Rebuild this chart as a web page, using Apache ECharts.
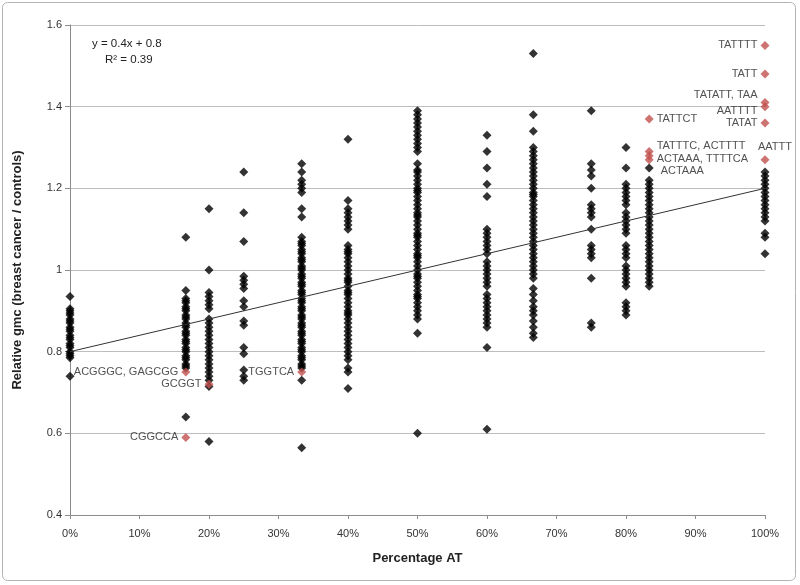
<!DOCTYPE html>
<html>
<head>
<meta charset="utf-8">
<script src="https://cdn.jsdelivr.net/npm/echarts@6/dist/echarts.min.js"></script>
<style>
  html, body { margin: 0; padding: 0; background: #fff; }
  #chart { width: 800px; height: 585px; }
</style>
</head>
<body>
<div id="chart"></div>
<script>
// x positions of the columns (fraction AT)
var columnX = [0, 1/6, 0.2, 0.25, 1/3, 0.4, 0.5, 0.6, 2/3, 0.75, 0.8, 5/6, 1];

// relative gmc values
var at0 = [0.935, 0.905, 0.90, 0.895, 0.89, 0.88, 0.875, 0.87, 0.86, 0.855, 0.85, 0.84, 0.835, 0.83, 0.82, 0.815, 0.81, 0.80, 0.795, 0.79, 0.785, 0.74];
var at17 = [1.08, 0.95, 0.93, 0.925, 0.92, 0.91, 0.905, 0.90, 0.89, 0.885, 0.88, 0.87, 0.865, 0.86, 0.85, 0.845, 0.84, 0.83, 0.825, 0.82, 0.81, 0.805, 0.80, 0.79, 0.785, 0.78, 0.77, 0.765, 0.76, 0.64];
var at20 = [1.15, 1.00, 0.945, 0.935, 0.925, 0.915, 0.905, 0.88, 0.87, 0.86, 0.85, 0.84, 0.83, 0.82, 0.81, 0.80, 0.79, 0.78, 0.77, 0.76, 0.75, 0.74, 0.73, 0.715, 0.58];
var at25 = [1.24, 1.14, 1.07, 0.985, 0.975, 0.965, 0.955, 0.925, 0.91, 0.875, 0.865, 0.81, 0.795, 0.755, 0.74, 0.73];
var at33 = [1.26, 1.24, 1.22, 1.21, 1.20, 1.19, 1.15, 1.13, 1.08, 1.07, 1.065, 1.06, 1.05, 1.045, 1.04, 1.03, 1.025, 1.02, 1.01, 1.005, 1.00, 0.99, 0.985, 0.98, 0.97, 0.965, 0.96, 0.95, 0.945, 0.94, 0.93, 0.925, 0.92, 0.91, 0.905, 0.90, 0.89, 0.885, 0.88, 0.87, 0.865, 0.86, 0.85, 0.845, 0.84, 0.83, 0.825, 0.82, 0.81, 0.805, 0.80, 0.79, 0.785, 0.78, 0.77, 0.765, 0.76, 0.73, 0.565];
var at40 = [1.32, 1.17, 1.15, 1.14, 1.13, 1.12, 1.11, 1.10, 1.06, 1.05, 1.045, 1.04, 1.03, 1.02, 1.01, 1.00, 0.99, 0.98, 0.975, 0.97, 0.96, 0.95, 0.945, 0.94, 0.93, 0.92, 0.91, 0.90, 0.895, 0.89, 0.88, 0.87, 0.86, 0.85, 0.84, 0.83, 0.82, 0.81, 0.80, 0.79, 0.78, 0.76, 0.75, 0.71];
var at50 = [1.39, 1.38, 1.37, 1.36, 1.35, 1.34, 1.33, 1.32, 1.31, 1.30, 1.29, 1.26, 1.245, 1.24, 1.23, 1.22, 1.21, 1.20, 1.195, 1.19, 1.18, 1.17, 1.16, 1.15, 1.14, 1.135, 1.13, 1.12, 1.11, 1.10, 1.09, 1.085, 1.08, 1.07, 1.06, 1.05, 1.04, 1.035, 1.03, 1.02, 1.01, 1.00, 0.99, 0.985, 0.98, 0.97, 0.96, 0.95, 0.94, 0.935, 0.93, 0.92, 0.91, 0.90, 0.89, 0.88, 0.845, 0.60];
var at60 = [1.33, 1.29, 1.25, 1.21, 1.18, 1.10, 1.09, 1.08, 1.07, 1.06, 1.05, 1.04, 1.02, 1.01, 1.00, 0.99, 0.98, 0.97, 0.96, 0.94, 0.93, 0.92, 0.91, 0.90, 0.89, 0.88, 0.87, 0.86, 0.81, 0.61];
var at67 = [1.53, 1.38, 1.34, 1.30, 1.29, 1.28, 1.27, 1.26, 1.25, 1.24, 1.23, 1.22, 1.21, 1.20, 1.19, 1.185, 1.18, 1.17, 1.16, 1.15, 1.14, 1.13, 1.12, 1.11, 1.10, 1.09, 1.08, 1.07, 1.06, 1.05, 1.04, 1.03, 1.02, 1.01, 1.00, 0.99, 0.98, 0.955, 0.94, 0.925, 0.91, 0.90, 0.89, 0.875, 0.86, 0.845, 0.835];
var at75 = [1.39, 1.26, 1.245, 1.23, 1.20, 1.16, 1.15, 1.14, 1.13, 1.10, 1.06, 1.05, 1.04, 1.03, 0.98, 0.87, 0.86];
var at80 = [1.30, 1.25, 1.21, 1.20, 1.19, 1.18, 1.17, 1.16, 1.14, 1.13, 1.12, 1.11, 1.10, 1.09, 1.06, 1.05, 1.04, 1.03, 1.01, 1.00, 0.99, 0.98, 0.97, 0.96, 0.92, 0.91, 0.90, 0.89];
var at83 = [1.25, 1.22, 1.21, 1.20, 1.19, 1.18, 1.17, 1.16, 1.15, 1.14, 1.13, 1.12, 1.11, 1.10, 1.09, 1.08, 1.07, 1.06, 1.05, 1.04, 1.03, 1.02, 1.01, 1.00, 0.99, 0.98, 0.97, 0.96];
var at100 = [1.24, 1.23, 1.22, 1.21, 1.20, 1.19, 1.18, 1.17, 1.16, 1.15, 1.14, 1.13, 1.12, 1.09, 1.08, 1.04];
var columnValues = [at0, at17, at20, at25, at33, at40, at50, at60, at67, at75, at80, at83, at100];

// highlighted (labelled) sequences
var redX = [1/6, 0.2, 1/6, 1/3, 5/6, 5/6, 5/6, 5/6, 1, 1, 1, 1, 1, 1];
var redY = [0.75, 0.72, 0.59, 0.75, 1.37, 1.29, 1.28, 1.27, 1.55, 1.48, 1.41, 1.40, 1.36, 1.27];
var redLabels = ['ACGGGC, GAGCGG', 'GCGGT', 'CGGCCA', 'TGGTCA', 'TATTCT', 'TATTTC, ACTTTT',
  'ACTAAA, TTTTCA', 'ACTAAA', 'TATTTT', 'TATT', 'TATATT, TAA', 'AATTTT', 'TATAT', 'AATTT'];

// linear fit y = 0.4x + 0.8
var trendStart = [0, 0.8];
var trendEnd = [1, 1.2];

var xTicks = ['0%', '10%', '20%', '30%', '40%', '50%', '60%', '70%', '80%', '90%', '100%'];

// label placement for the highlighted points (style only)
var labelStyle = [
  {position: 'left'}, {position: 'left'}, {position: 'left'}, {position: 'left'},
  {position: 'right'}, {position: 'right', offset: [0, -6]}, {position: 'right', offset: [0, 3]},
  {position: 'right', offset: [4, 11]},
  {position: 'left'}, {position: 'left'}, {position: 'left', offset: [0, -8]},
  {position: 'left', offset: [0, 4]}, {position: 'left'}, {position: 'top', offset: [10, 0]}
];

var blackData = [];
columnValues.forEach(function (vals, i) {
  vals.forEach(function (v) { blackData.push([columnX[i], v]); });
});

var redData = redX.map(function (x, i) {
  var ls = labelStyle[i];
  return {
    value: [x, redY[i]],
    label: {show: true, formatter: redLabels[i], position: ls.position, offset: ls.offset || [0, 0]}
  };
});

var font = 'Liberation Sans';
var chart = echarts.init(document.getElementById('chart'));
chart.setOption({
  animation: false,
  grid: {left: 70, right: 35, top: 25, bottom: 70},
  graphic: [
    {type: 'rect', shape: {x: 2.5, y: 2.5, width: 793, height: 578, r: 5},
      style: {fill: 'none', stroke: '#b4b4b4', lineWidth: 1}},
    {type: 'text', left: 92, top: 38, style: {text: 'y = 0.4x + 0.8', font: '11.5px ' + font, fill: '#222'}},
    {type: 'text', left: 105, top: 54, style: {text: 'R\u00b2 = 0.39', font: '11.5px ' + font, fill: '#222'}}
  ],
  xAxis: {
    type: 'value', min: 0, max: 1, interval: 0.1,
    name: 'Percentage AT', nameLocation: 'middle', nameGap: 37,
    nameTextStyle: {fontFamily: font, fontWeight: 'bold', fontSize: 13, color: '#222'},
    axisLine: {lineStyle: {color: '#8c8c8c'}},
    axisTick: {show: true, length: 4, lineStyle: {color: '#8c8c8c'}},
    axisLabel: {fontFamily: font, fontSize: 11, color: '#333', margin: 13,
      formatter: function (v) { return xTicks[Math.round(v * 10)]; }},
    splitLine: {show: false}
  },
  yAxis: {
    type: 'value', min: 0.4, max: 1.6, interval: 0.2,
    name: 'Relative gmc (breast cancer / controls)', nameLocation: 'middle', nameGap: 46,
    nameTextStyle: {fontFamily: font, fontWeight: 'bold', fontSize: 13, color: '#222'},
    axisLine: {show: true, lineStyle: {color: '#8c8c8c'}},
    axisTick: {show: true, length: 5, lineStyle: {color: '#8c8c8c'}},
    axisLabel: {fontFamily: font, fontSize: 11, color: '#333', margin: 8},
    splitLine: {lineStyle: {color: '#bdbdbd'}}
  },
  series: [
    {
      type: 'scatter', data: blackData, symbol: 'diamond', symbolSize: 9,
      itemStyle: {color: '#000'}, z: 2
    },
    {
      type: 'line', data: [trendStart, trendEnd], symbol: 'none',
      lineStyle: {color: '#333', width: 1}, z: 3
    },
    {
      type: 'scatter', data: redData, symbol: 'diamond', symbolSize: 9,
      itemStyle: {color: '#c0504d'}, z: 4,
      label: {fontFamily: font, fontSize: 11, color: '#262626', distance: 3}
    }
  ]
});
</script>
</body>
</html>
